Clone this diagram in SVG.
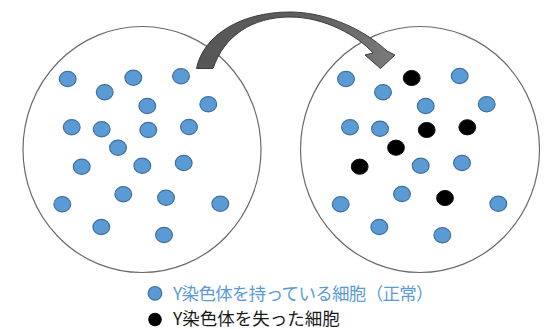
<svg xmlns="http://www.w3.org/2000/svg" xmlns:xlink="http://www.w3.org/1999/xlink" width="548" height="329" viewBox="0 0 548 329">
<style>
.cell{fill:#fff;stroke:#6b6b6b;stroke-width:1.2}
.b{fill:#5B9BD5;stroke:#3f6f9c;stroke-width:1.2}
.k{fill:#000;stroke:#111;stroke-width:1}
.t{font-family:"Noto Sans CJK JP","Noto Sans",sans-serif;font-size:17.5px}
</style>
<defs>
<linearGradient id="ag" x1="0" y1="0" x2="1" y2="0">
<stop offset="0" stop-color="#565656"/>
<stop offset="0.6" stop-color="#606060"/>
<stop offset="1" stop-color="#7c7c7c"/>
</linearGradient>
<ellipse id="d" rx="8.4" ry="7.6"/>
</defs>
<rect width="548" height="329" fill="#fff"/>
<g id="cell-left">
<ellipse class="cell" cx="142" cy="149.5" rx="119" ry="123"/>
<g class="b">
<use xlink:href="#d" x="67.7" y="79"/>
<use xlink:href="#d" x="104.7" y="92.3"/>
<use xlink:href="#d" x="133.3" y="77.7"/>
<use xlink:href="#d" x="181" y="76.3"/>
<use xlink:href="#d" x="147.3" y="106"/>
<use xlink:href="#d" x="208.3" y="104.3"/>
<use xlink:href="#d" x="71.7" y="127.3"/>
<use xlink:href="#d" x="101.7" y="129.3"/>
<use xlink:href="#d" x="148.3" y="130"/>
<use xlink:href="#d" x="189" y="127"/>
<use xlink:href="#d" x="118" y="147.7"/>
<use xlink:href="#d" x="81.7" y="166.7"/>
<use xlink:href="#d" x="142.3" y="165.7"/>
<use xlink:href="#d" x="183.7" y="163"/>
<use xlink:href="#d" x="123.3" y="194.3"/>
<use xlink:href="#d" x="166" y="197.7"/>
<use xlink:href="#d" x="62.3" y="204.3"/>
<use xlink:href="#d" x="220.3" y="203.7"/>
<use xlink:href="#d" x="101.3" y="227"/>
<use xlink:href="#d" x="164" y="235"/>
</g>
</g>
<g id="cell-right">
<ellipse class="cell" cx="420" cy="149.5" rx="119.5" ry="123"/>
<g class="b">
<use xlink:href="#d" x="346" y="79"/>
<use xlink:href="#d" x="383" y="92.3"/>
<use xlink:href="#d" x="459.7" y="76"/>
<use xlink:href="#d" x="425.7" y="106"/>
<use xlink:href="#d" x="486.7" y="104.3"/>
<use xlink:href="#d" x="350" y="127.3"/>
<use xlink:href="#d" x="380" y="128.7"/>
<use xlink:href="#d" x="420.7" y="165.7"/>
<use xlink:href="#d" x="462" y="163"/>
<use xlink:href="#d" x="402" y="194"/>
<use xlink:href="#d" x="340.7" y="204.3"/>
<use xlink:href="#d" x="498.3" y="203.7"/>
<use xlink:href="#d" x="379.3" y="227"/>
<use xlink:href="#d" x="442.3" y="235.3"/>
</g>
<g class="k">
<use xlink:href="#d" x="411.7" y="78"/>
<use xlink:href="#d" x="426.7" y="130"/>
<use xlink:href="#d" x="467.3" y="127.3"/>
<use xlink:href="#d" x="396" y="147.7"/>
<use xlink:href="#d" x="359.7" y="166.7"/>
<use xlink:href="#d" x="445" y="198"/>
</g>
</g>
<g id="connectors">
<path d="M196.5,68.5 C203,36 240,12 290,12 C322,12 360,26 387,51 L395,55 L380.5,68.5 L365,55 L373,53 C358,36 325,17 290,17 C252,17 224,36 213,68.5 Z" fill="url(#ag)" stroke="#3c3c3c" stroke-width="1"/>
</g>
<g id="legend">
<circle cx="155" cy="293.3" r="6.8" class="b"/>
<text class="t" x="173" y="300.2" fill="#5B9BD5" textLength="260.6" lengthAdjust="spacing">Y染色体を持っている細胞（正常）</text>
<circle cx="155" cy="319.5" r="6.8" fill="#000"/>
<text class="t" x="173" y="325" fill="#1a1a1a">Y染色体を失った細胞</text>
</g>
</svg>
